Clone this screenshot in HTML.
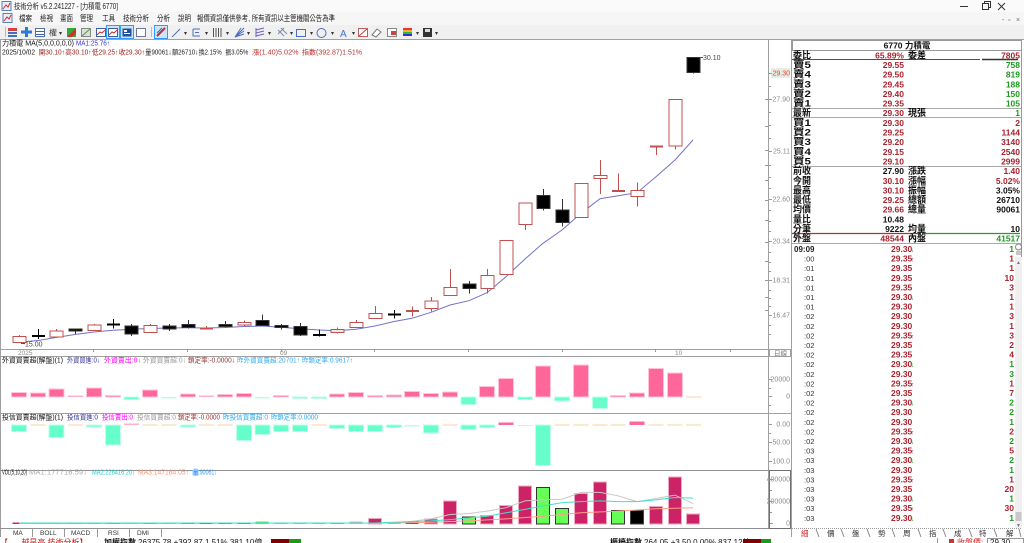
<!DOCTYPE html>
<html><head><meta charset="utf-8"><style>
html,body{margin:0;padding:0;background:#fff;width:1024px;height:543px;overflow:hidden}
svg{display:block}
text{font-family:"Liberation Sans","Noto Sans CJK TC","Noto Sans CJK SC",sans-serif}
.b{font-weight:bold}
.L{font-size:9.5px;font-weight:bold;fill:#111}
.V{font-size:8.5px;font-weight:bold;text-anchor:end}
.r{fill:#a8232e}.g{fill:#1f9a1f}.k{fill:#111}
.ax{font-size:7px;fill:#8a8a8a;text-anchor:end}
.tm{font-size:7.5px;fill:#333}
.tp{font-size:8.5px;font-weight:bold;fill:#a8232e}
.tv{font-size:8.5px;font-weight:bold;text-anchor:end}
.ar{font-size:6px}
.h7{font-size:7px}
</style></head><body>
<svg width="1024" height="543" viewBox="0 0 1024 543" xmlns="http://www.w3.org/2000/svg">
<rect x="0" y="0" width="1024" height="543" fill="#fff"/>
<!-- title bar -->
<rect x="0" y="0" width="1024" height="12" fill="#fafafa"/>
<rect x="0" y="12" width="1024" height="13" fill="#f6f6f6"/>
<rect x="0" y="25" width="1024" height="14.5" fill="#f0f0f0"/>
<rect x="2" y="1.5" width="9" height="9" fill="#e8eef8" stroke="#5a7fb8"/>
<path d="M3 9 L6 5 L8 7 L10 3" stroke="#d03030" fill="none"/>
<text x="14" y="9" font-size="8" fill="#222" textLength="104" lengthAdjust="spacingAndGlyphs">技術分析 v5.2.241227 - [力積電 6770]</text>
<line x1="960" y1="6.5" x2="968" y2="6.5" stroke="#333"/>
<rect x="982.5" y="3.5" width="6" height="6" fill="none" stroke="#333"/>
<path d="M984.5 3.5 V1.5 H990.5 V7.5 H988.5" fill="none" stroke="#333"/>
<path d="M998 3 L1005 10 M1005 3 L998 10" stroke="#333"/>
<!-- menu -->
<rect x="3" y="13.5" width="9" height="9" fill="#e8eef8" stroke="#5a7fb8"/>
<path d="M4 21 L7 17 L9 19 L11 15" stroke="#d03030" fill="none"/>
<g font-size="8" fill="#222">
<text x="19" y="21" textLength="13" lengthAdjust="spacingAndGlyphs">檔案</text>
<text x="40" y="21" textLength="13" lengthAdjust="spacingAndGlyphs">檢視</text>
<text x="60" y="21" textLength="13" lengthAdjust="spacingAndGlyphs">畫面</text>
<text x="80" y="21" textLength="13" lengthAdjust="spacingAndGlyphs">管理</text>
<text x="102" y="21" textLength="13" lengthAdjust="spacingAndGlyphs">工具</text>
<text x="123" y="21" textLength="26" lengthAdjust="spacingAndGlyphs">技術分析</text>
<text x="157" y="21" textLength="13" lengthAdjust="spacingAndGlyphs">分析</text>
<text x="178" y="21" textLength="13" lengthAdjust="spacingAndGlyphs">說明</text>
<text x="197" y="21" textLength="138" lengthAdjust="spacingAndGlyphs">報價資訊僅供參考, 所有資訊以主管機關公告為準</text>
</g>
<g font-size="7" fill="#666"><text x="1002" y="22">-</text><text x="1008" y="22">▫</text><text x="1016" y="22">×</text></g>
<!-- toolbar -->
<line x1="5.5" y1="27" x2="5.5" y2="37" stroke="#bbb"/>
<rect x="8" y="28" width="9" height="3" fill="#d04040"/><rect x="8" y="32" width="9" height="2" fill="#4070c0"/><rect x="8" y="35" width="9" height="2" fill="#4070c0"/>
<rect x="25" y="27" width="3" height="10" fill="#2b7bd6"/><rect x="21" y="30.5" width="11" height="3" fill="#2b7bd6"/>
<rect x="35.5" y="28.5" width="9" height="8" fill="#fff" stroke="#5070a8"/><line x1="36" y1="31.5" x2="44" y2="31.5" stroke="#4060a0"/><line x1="36" y1="34.5" x2="44" y2="34.5" stroke="#4060a0"/>
<text x="49" y="35.5" font-size="8" fill="#333">權</text><text x="59" y="35" font-size="6" fill="#333">▾</text>
<rect x="67" y="28" width="9" height="9" fill="#3a3"/><polygon points="67,37 76,28 76,33 72,37" fill="#d03030"/>
<rect x="81.5" y="28.5" width="9" height="8" fill="#ddd" stroke="#888"/><line x1="82" y1="36" x2="90" y2="29" stroke="#3a3"/>
<rect x="96.5" y="28.5" width="9" height="8" fill="#fff" stroke="#4060a0"/><polyline points="97,35 100,32 102,33 105,30" fill="none" stroke="#d03030"/>
<rect x="106.5" y="25.5" width="13" height="13" fill="#cce4f7" stroke="#3399ff"/><rect x="108.5" y="28.5" width="9" height="8" fill="#fff" stroke="#4060a0"/><polyline points="109,35 112,32 114,33 117,30" fill="none" stroke="#d03030"/>
<rect x="120.5" y="25.5" width="13" height="13" fill="#cce4f7" stroke="#3399ff"/><rect x="122.5" y="28.5" width="9" height="8" fill="#2050a0"/><rect x="124" y="30" width="3" height="2" fill="#fff"/><rect x="124" y="33" width="6" height="1" fill="#fff"/>
<rect x="136.5" y="28.5" width="9" height="8" fill="#fff" stroke="#6a7aa0"/>
<line x1="151.5" y1="27" x2="151.5" y2="37" stroke="#bbb"/>
<rect x="154.5" y="25.5" width="13" height="13" fill="#cce4f7" stroke="#3399ff"/><line x1="157" y1="36" x2="165" y2="28" stroke="#c03030" stroke-width="2"/><line x1="157" y1="33" x2="162" y2="28" stroke="#4060c0"/>
<line x1="172" y1="37" x2="180" y2="29" stroke="#4a6fc0"/><text x="184" y="35" font-size="6" fill="#333">▾</text>
<path d="M193 29 H200 M193 29 V36 H200 M195 32.5 H199" stroke="#4a6fc0" fill="none"/><text x="205" y="35" font-size="6" fill="#333">▾</text>
<path d="M213.5 28 V37 M216 28 V37 M218.5 28 V37 M221 28 V37" stroke="#555"/><text x="226" y="35" font-size="6" fill="#333">▾</text>
<path d="M235 37 L244 28 M235 37 L244 31 M235 37 L244 34 M235 37 L241 28" stroke="#4a6fc0"/><text x="247" y="35" font-size="6" fill="#333">▾</text>
<path d="M256 28 V37 M256 30 L264 28 M256 33 L264 31 M256 36 L264 34" stroke="#6a5fc0"/><text x="268" y="35" font-size="6" fill="#333">▾</text>
<path d="M278 30 L284 36 M281 28 L287 34 M278 34 L284 28" stroke="#7a8ab0"/><text x="290" y="35" font-size="6" fill="#333">▾</text>
<rect x="296.5" y="29.5" width="9" height="7" fill="none" stroke="#4a6fc0"/><text x="310" y="35" font-size="6" fill="#333">▾</text>
<circle cx="321.5" cy="33" r="4.5" fill="none" stroke="#4a6fc0"/><text x="331" y="35" font-size="6" fill="#333">▾</text>
<text x="340" y="37" font-size="10" fill="#4a6fc0">A</text><text x="352" y="35" font-size="6" fill="#333">▾</text>
<rect x="358.5" y="28.5" width="9" height="8" fill="#fff" stroke="#c06060"/><line x1="359" y1="36" x2="367" y2="29" stroke="#d04040"/>
<path d="M372 35 L377 29 L381 32 L376 37 Z" fill="#fff" stroke="#777"/>
<rect x="387.5" y="28.5" width="9" height="8" fill="#fff" stroke="#888"/><rect x="391" y="31" width="5" height="4" fill="#d04040"/>
<rect x="403" y="28" width="9" height="2" fill="#e33"/><rect x="403" y="30" width="9" height="2" fill="#fa3"/><rect x="403" y="32" width="9" height="2" fill="#3b3"/><rect x="403" y="34" width="9" height="2" fill="#33c"/><text x="416" y="35" font-size="6" fill="#333">▾</text>
<rect x="423" y="28" width="9" height="9" fill="#333"/><rect x="425" y="29" width="5" height="3" fill="#ddd"/><text x="435" y="35" font-size="6" fill="#333">▾</text>

<!-- frame lines -->
<line x1="0" y1="39.5" x2="1024" y2="39.5" stroke="#a0a0a0"/>
<line x1="0.5" y1="40" x2="0.5" y2="537" stroke="#a0a0a0"/>
<line x1="768.5" y1="40" x2="768.5" y2="528" stroke="#a0a0a0"/>
<line x1="791.5" y1="40" x2="791.5" y2="537" stroke="#a0a0a0"/>
<line x1="0" y1="349.5" x2="791" y2="349.5" stroke="#a0a0a0"/>
<line x1="0" y1="356.5" x2="791" y2="356.5" stroke="#a0a0a0"/>
<line x1="0" y1="413.5" x2="791" y2="413.5" stroke="#a0a0a0"/>
<line x1="0" y1="470.5" x2="791" y2="470.5" stroke="#909090"/>
<line x1="0" y1="528.5" x2="791" y2="528.5" stroke="#909090"/>
<rect x="769.5" y="470.5" width="21" height="58" fill="none" stroke="#707070"/>

<!-- header texts -->
<text x="2" y="45.5" class="h7" fill="#111" textLength="72" lengthAdjust="spacingAndGlyphs">力積電 MA(5,0,0,0,0,0)</text>
<text x="76" y="45.5" class="h7" fill="#3535d0" textLength="34" lengthAdjust="spacingAndGlyphs">MA1:25.76↑</text>
<g class="h7">
<text x="2" y="54.5" fill="#111" textLength="33" lengthAdjust="spacingAndGlyphs">2025/10/02</text>
<text x="38.7" y="54.5" fill="#a02020" textLength="26.3" lengthAdjust="spacingAndGlyphs">開30.10↑</text>
<text x="65.3" y="54.5" fill="#a02020" textLength="26.3" lengthAdjust="spacingAndGlyphs">高30.10↑</text>
<text x="92" y="54.5" fill="#a02020" textLength="26.3" lengthAdjust="spacingAndGlyphs">低29.25↑</text>
<text x="118.7" y="54.5" fill="#a02020" textLength="26.3" lengthAdjust="spacingAndGlyphs">收29.30↑</text>
<text x="145.3" y="54.5" fill="#222" textLength="26.3" lengthAdjust="spacingAndGlyphs">量90061↓</text>
<text x="172" y="54.5" fill="#222" textLength="26.3" lengthAdjust="spacingAndGlyphs">額26710↓</text>
<text x="198.7" y="54.5" fill="#222" textLength="23" lengthAdjust="spacingAndGlyphs">換2.15%</text>
<text x="225.3" y="54.5" fill="#222" textLength="23" lengthAdjust="spacingAndGlyphs">振3.05%</text>
<text x="252" y="54.5" fill="#c03030" textLength="46.5" lengthAdjust="spacingAndGlyphs">漲(1.40)5.02%</text>
<text x="302" y="54.5" fill="#c03030" textLength="60" lengthAdjust="spacingAndGlyphs">指數(392.87)1.51%</text>
</g>

<!-- price axis -->
<rect x="771" y="68" width="19" height="10" fill="#e4efe4"/>
<text x="790" y="75.5" class="ax" style="fill:#ff3030">29.30</text>
<text x="790" y="101.5" class="ax">27.90</text>
<text x="790" y="153.5" class="ax">25.11</text>
<text x="790" y="201.5" class="ax">22.60</text>
<text x="790" y="243.5" class="ax">20.34</text>
<text x="790" y="282.5" class="ax">18.31</text>
<text x="790" y="317.5" class="ax">16.47</text>
<g stroke="#999">
<path d="M769 73.5h3M769 99.5h3M769 151.5h3M769 199.5h3M769 241.5h3M769 280.5h3M769 315.5h3"/>
<path d="M769 86.5h2M769 112.5h2M769 125.5h2M769 138.5h2M769 165.5h2M769 177.5h2M769 188.5h2M769 210.5h2M769 221.5h2M769 231.5h2M769 252.5h2M769 262.5h2M769 271.5h2M769 290.5h2M769 298.5h2M769 306.5h2M769 325.5h2M769 334.5h2"/>
<path d="M765 99.5h3M765 126.5h3M765 150.5h3M765 165.5h3M765 180.5h3M765 200.5h3M765 220.5h3M765 242.5h3M765 261.5h3M765 280.5h3M765 297.5h3M765 310.5h3"/>
</g>
<!-- date axis -->
<g font-size="6.5" fill="#8a8a8a">
<text x="18" y="355">2025</text><text x="280" y="355">09</text><text x="675" y="355">10</text>
</g>
<path d="M93.5 349v3M187.5 349v3M281.5 349v3M374.5 349v3M468.5 349v3M562.5 349v3M655.5 349v3M730.5 349v3" stroke="#999"/>
<rect x="769.5" y="349.5" width="21" height="7" fill="#fff" stroke="#a0a0a0"/>
<text x="774" y="355.5" font-size="6.5" fill="#777">日線</text>

<!-- MA line -->
<polyline fill="none" stroke="#7272c8" stroke-width="1" points="19,342.3 38,340.5 56,337.5 75,334.5 94,332 113,330.3 131,329.3 150,328.5 169,328 188,327.8 206,328 225,327.5 244,326.5 262,326 281,327.3 300,328.7 319,330 337,330.7 356,329.3 375,326 394,321.5 412,318.3 431,312.3 450,305 469,300.7 487,292.7 506,276.7 525,259 543,243.3 562,230 581,213.3 600,198.7 618,195.7 637,192.7 656,176.7 675,160 693,140"/>

<!-- candles -->
<g shape-rendering="crispEdges">
<g stroke="#c0504d" fill="#fff">
<line x1="19.5" y1="335" x2="19.5" y2="343"/><rect x="13" y="336.5" width="13" height="6"/>
<line x1="56.5" y1="329" x2="56.5" y2="337"/><rect x="50" y="331" width="13" height="6"/>
<line x1="94.5" y1="324" x2="94.5" y2="331"/><rect x="88" y="325" width="13" height="5.5"/>
<line x1="150.5" y1="324" x2="150.5" y2="333"/><rect x="144" y="325.5" width="13" height="7"/>
<line x1="244.5" y1="320.5" x2="244.5" y2="326.5"/><rect x="238" y="322.5" width="13" height="2.5"/>
<line x1="337.5" y1="327.5" x2="337.5" y2="333.5"/><rect x="331" y="329.5" width="13" height="3" fill="#e8e8e8"/>
<line x1="356.5" y1="320" x2="356.5" y2="327.5"/><rect x="350" y="322.5" width="13" height="5"/>
<line x1="375.5" y1="306" x2="375.5" y2="318.5"/><rect x="369" y="313.5" width="13" height="5"/>
<line x1="431.5" y1="297" x2="431.5" y2="311.5"/><rect x="425" y="301" width="13" height="7.5"/>
<line x1="450.5" y1="269" x2="450.5" y2="295.5"/><rect x="444" y="287.5" width="13" height="8"/>
<line x1="487.5" y1="269" x2="487.5" y2="293.5"/><rect x="481" y="275.5" width="13" height="13"/>
<rect x="500" y="240.5" width="13" height="34"/>
<line x1="525.5" y1="203" x2="525.5" y2="230"/><rect x="519" y="203" width="13" height="21.5"/>
<rect x="575" y="183.5" width="13" height="34"/>
<line x1="600.5" y1="160" x2="600.5" y2="194"/><rect x="594" y="175.5" width="13" height="3"/>
<line x1="637.5" y1="182.5" x2="637.5" y2="206.5"/><rect x="631" y="190.5" width="13" height="6"/>
<line x1="675.5" y1="99.5" x2="675.5" y2="149.5"/><rect x="669" y="99.5" width="13" height="46.5"/>
</g>
<!-- red doji -->
<g stroke="#c0504d">
<line x1="206.5" y1="326" x2="206.5" y2="329.5"/><line x1="200" y1="328.5" x2="213" y2="328.5" stroke-width="1.5"/>
<line x1="412.5" y1="306.5" x2="412.5" y2="316.5"/><line x1="406" y1="311" x2="419" y2="311" stroke-width="2"/>
<line x1="618.5" y1="173.5" x2="618.5" y2="191.5"/><line x1="612" y1="191" x2="625" y2="191" stroke-width="2"/>
<line x1="656.5" y1="146.5" x2="656.5" y2="155"/><line x1="650" y1="146.5" x2="663" y2="146.5" stroke-width="2"/>
</g>
<!-- black candles -->
<g stroke="#000">
<line x1="38.5" y1="329" x2="38.5" y2="339"/><line x1="32" y1="336" x2="45" y2="336" stroke-width="2"/>
<line x1="113.5" y1="319" x2="113.5" y2="328.5"/><line x1="107" y1="324.5" x2="120" y2="324.5" stroke-width="2"/>
<line x1="319.5" y1="329.5" x2="319.5" y2="336.5"/><line x1="313" y1="335" x2="326" y2="335" stroke-width="2"/>
<line x1="394.5" y1="310" x2="394.5" y2="318.5"/><line x1="388" y1="314.5" x2="401" y2="314.5" stroke-width="2"/>
</g>
<g stroke="#333" fill="#000">
<line x1="75.5" y1="328.5" x2="75.5" y2="334"/><rect x="69" y="329" width="13" height="2"/>
<line x1="131.5" y1="324" x2="131.5" y2="336"/><rect x="125" y="326" width="13" height="8"/>
<line x1="169.5" y1="324" x2="169.5" y2="331"/><rect x="163" y="326" width="13" height="3"/>
<line x1="188.5" y1="320" x2="188.5" y2="328.5"/><rect x="182" y="324.5" width="13" height="3"/>
<line x1="225.5" y1="321" x2="225.5" y2="327.5"/><rect x="219" y="324.5" width="13" height="2"/>
<line x1="262.5" y1="314.5" x2="262.5" y2="326"/><rect x="256" y="320.5" width="13" height="5"/>
<line x1="281.5" y1="324" x2="281.5" y2="329.5"/><rect x="275" y="325.5" width="13" height="2"/>
<line x1="300.5" y1="323" x2="300.5" y2="336"/><rect x="294" y="326.5" width="13" height="8.5"/>
<line x1="469.5" y1="281" x2="469.5" y2="293.5"/><rect x="463" y="284" width="13" height="4.5"/>
<line x1="543.5" y1="189" x2="543.5" y2="210.5"/><rect x="537" y="195.5" width="13" height="13"/>
<line x1="562.5" y1="199" x2="562.5" y2="226.5"/><rect x="556" y="210" width="13" height="12.5"/>
<line x1="693.5" y1="57.5" x2="693.5" y2="73.5"/><rect x="687" y="57.5" width="13" height="15"/>
</g>
</g>
<line x1="700" y1="57.5" x2="703" y2="57.5" stroke="#555"/>
<text x="703" y="60" font-size="7" fill="#444">30.10</text>
<line x1="21" y1="343.5" x2="25" y2="343.5" stroke="#555"/>
<text x="25" y="346.5" font-size="7" fill="#444">15.00</text>

<!-- panel 1 header -->
<g class="h7">
<text x="2" y="362.5" fill="#111" textLength="61" lengthAdjust="spacingAndGlyphs">外資買賣超(解盤)(1)</text>
<text x="67" y="362.5" fill="#333399" textLength="33" lengthAdjust="spacingAndGlyphs">外資買進:0↓</text>
<text x="104" y="362.5" fill="#ff00ff" textLength="37" lengthAdjust="spacingAndGlyphs">外資賣出:0↓</text>
<text x="143" y="362.5" fill="#9a9a9a" textLength="43" lengthAdjust="spacingAndGlyphs">外資買賣超:0↓</text>
<text x="188" y="362.5" fill="#993333" textLength="47" lengthAdjust="spacingAndGlyphs">鎖定率:-0.0000↓</text>
<text x="237" y="362.5" fill="#33aaee" textLength="63" lengthAdjust="spacingAndGlyphs">昨外資買賣超:20701↑</text>
<text x="302" y="362.5" fill="#33aaee" textLength="51" lengthAdjust="spacingAndGlyphs">昨鎖定率:0.9617↑</text>
</g>
<!-- panel 1 bars baseline 397 -->
<g shape-rendering="crispEdges">
<g fill="#ff6699" stroke="#ffc4d6">
<rect x="11.5" y="392.5" width="15" height="4.5"/>
<rect x="30.5" y="393" width="15" height="4"/>
<rect x="49" y="389" width="15" height="8"/>
<rect x="86.5" y="388" width="15" height="9"/>
<rect x="105.5" y="395.5" width="15" height="1.5"/>
<rect x="142.5" y="390" width="15" height="7"/>
<rect x="180.5" y="394" width="15" height="3"/>
<rect x="217.5" y="394.3" width="15" height="2.7"/>
<rect x="236.5" y="393.7" width="15" height="3.3"/>
<rect x="273.5" y="395.5" width="15" height="1.5"/>
<rect x="329.5" y="394" width="15" height="3"/>
<rect x="348.5" y="392.3" width="15" height="4.7"/>
<rect x="367.5" y="395.3" width="15" height="1.7"/>
<rect x="386.5" y="395" width="15" height="2"/>
<rect x="404.5" y="391.7" width="15" height="5.3"/>
<rect x="423.5" y="393.7" width="15" height="3.3"/>
<rect x="442.5" y="392" width="15" height="5"/>
<rect x="479.5" y="386.3" width="15" height="10.7"/>
<rect x="498.5" y="378.3" width="15" height="18.7"/>
<rect x="535.5" y="366" width="15" height="31"/>
<rect x="573.5" y="365" width="15" height="32"/>
<rect x="610.5" y="395.3" width="15" height="1.7"/>
<rect x="629.5" y="393" width="15" height="4"/>
<rect x="648.5" y="368.7" width="15" height="28.3"/>
<rect x="667.5" y="373" width="15" height="24"/>
</g>
<g fill="#ffb0c8"><rect x="68" y="395.5" width="15" height="1.5"/><rect x="199" y="395.5" width="15" height="1.5"/></g>
<g fill="#66ffcc" stroke="#bfffe8">
<rect x="124" y="397" width="15" height="2.5"/>
<rect x="292.5" y="397" width="15" height="1.5"/>
<rect x="311.5" y="397" width="15" height="1.5"/>
<rect x="461" y="397" width="15" height="7.3"/>
<rect x="517.5" y="397" width="15" height="2.7"/>
<rect x="554.5" y="397" width="15" height="4"/>
<rect x="592.5" y="397" width="15" height="11.7"/>
</g>
<g fill="#b8ffe6"><rect x="161.5" y="397" width="15" height="1.5"/><rect x="254.5" y="397" width="15" height="1.5"/></g>
<rect x="686" y="396.5" width="15" height="1" fill="#ffd0a0"/>
</g>
<!-- panel 1 axis -->
<text x="790" y="381.5" class="ax">20000</text>
<text x="790" y="398.5" class="ax">0</text>
<path d="M769 379.5h3M769 388.5h2M769 396.5h3M769 405.5h2" stroke="#999"/>

<!-- panel 2 header -->
<g class="h7">
<text x="2" y="419.5" fill="#111" textLength="61" lengthAdjust="spacingAndGlyphs">投信買賣超(解盤)(1)</text>
<text x="67" y="419.5" fill="#333399" textLength="31" lengthAdjust="spacingAndGlyphs">投信買進:0</text>
<text x="102" y="419.5" fill="#ff00ff" textLength="31" lengthAdjust="spacingAndGlyphs">投信賣出:0</text>
<text x="137" y="419.5" fill="#9a9a9a" textLength="39" lengthAdjust="spacingAndGlyphs">投信買賣超:0</text>
<text x="178" y="419.5" fill="#993333" textLength="42" lengthAdjust="spacingAndGlyphs">鎖定率:-0.0000</text>
<text x="223" y="419.5" fill="#33aaee" textLength="45" lengthAdjust="spacingAndGlyphs">昨投信買賣超:0</text>
<text x="271" y="419.5" fill="#33aaee" textLength="47" lengthAdjust="spacingAndGlyphs">昨鎖定率:0.0000</text>
</g>
<!-- panel 2 bars baseline 425 -->
<g shape-rendering="crispEdges">
<g fill="#66ffcc" stroke="#bfffe8">
<rect x="11.5" y="425" width="15" height="6.7"/>
<rect x="49" y="425" width="15" height="12.3"/>
<rect x="86.5" y="425" width="15" height="2"/>
<rect x="105.5" y="425" width="15" height="20"/>
<rect x="180.5" y="425" width="15" height="2"/>
<rect x="236.5" y="425" width="15" height="15.7"/>
<rect x="255" y="425" width="15" height="9.3"/>
<rect x="273.5" y="425" width="15" height="6.7"/>
<rect x="292.5" y="425" width="15" height="6.3"/>
<rect x="329.5" y="425" width="15" height="3.3"/>
<rect x="348.5" y="425" width="15" height="6.3"/>
<rect x="367.5" y="425" width="15" height="6.7"/>
<rect x="386.5" y="425" width="15" height="2.3"/>
<rect x="423.5" y="425" width="15" height="8"/>
<rect x="461" y="425" width="15" height="4.3"/>
<rect x="479.5" y="425" width="15" height="2.7"/>
<rect x="535.5" y="425" width="15" height="40.7"/>
</g>
<g fill="#b8ffe6"><rect x="404.5" y="425" width="15" height="1.7"/><rect x="517.5" y="425" width="15" height="1"/></g>
<rect x="124" y="423.3" width="15" height="1.7" fill="#ffb0c8"/>
<rect x="498.5" y="422.7" width="15" height="2.3" fill="#ff6699"/>
<rect x="629.5" y="421.7" width="15" height="3.3" fill="#ff6699"/>
<g fill="#ffd0a0">
<rect x="30.5" y="424.5" width="15" height="1"/><rect x="68" y="424.5" width="15" height="1"/>
<rect x="142.5" y="424.5" width="15" height="1"/><rect x="161.5" y="424.5" width="15" height="1"/>
<rect x="199" y="424.5" width="15" height="1"/><rect x="217.5" y="424.5" width="15" height="1"/>
<rect x="311.5" y="424.5" width="15" height="1"/><rect x="442.5" y="424.5" width="15" height="1"/>
<rect x="554.5" y="424.5" width="15" height="1"/><rect x="573.5" y="424.5" width="15" height="1"/>
<rect x="592.5" y="424.5" width="15" height="1"/><rect x="610.5" y="424.5" width="15" height="1"/>
<rect x="648.5" y="424.5" width="15" height="1"/><rect x="667.5" y="424.5" width="15" height="1"/>
<rect x="686" y="424.5" width="15" height="1"/>
</g>
</g>
<text x="790" y="426.5" class="ax">0.00</text>
<text x="790" y="444.5" class="ax">-50.00</text>
<text x="790" y="463.5" class="ax">-100.0</text>
<path d="M769 424.5h3M769 433.5h2M769 442.5h3M769 452.5h2M769 461.5h3" stroke="#999"/>

<!-- VOL header -->
<g class="h7">
<text x="2" y="474.5" fill="#111" textLength="25" lengthAdjust="spacingAndGlyphs">VOL(5,10,20)</text>
<text x="29" y="474.5" fill="#aaaaaa" textLength="58" lengthAdjust="spacingAndGlyphs">MA1:177716.59↓</text>
<text x="92" y="474.5" fill="#22c8c8" textLength="43" lengthAdjust="spacingAndGlyphs">MA2:228416.20↓</text>
<text x="138" y="474.5" fill="#ff9070" textLength="51" lengthAdjust="spacingAndGlyphs">MA3:147184.05↑</text>
<rect x="192.5" y="469.5" width="6" height="6" fill="#9fd0ff"/>
<text x="193" y="474.5" fill="#3399ff" textLength="24" lengthAdjust="spacingAndGlyphs">量:90061↓</text>
</g>
<!-- VOL bars baseline 524 -->
<g shape-rendering="crispEdges">
<g fill="#cc2266">
<rect x="12.5" y="522.5" width="13" height="1.5"/><rect x="49.5" y="522.5" width="13" height="1.5"/>
<rect x="87.5" y="522.5" width="13" height="1.5"/><rect x="143.5" y="522.5" width="13" height="1.5"/>
<rect x="181.5" y="522.5" width="13" height="1.5"/><rect x="218.5" y="522.5" width="13" height="1.5"/>
<rect x="237.5" y="522.5" width="13" height="1.5"/><rect x="405.5" y="521.6" width="13" height="2.4"/>
</g>
<g fill="#222"><rect x="31.5" y="522.5" width="13" height="1.5"/><rect x="68.5" y="522.5" width="13" height="1.5"/><rect x="106.5" y="522.5" width="13" height="1.5"/><rect x="199.5" y="522.5" width="13" height="1.5"/></g>
<g fill="#55ee55"><rect x="124.5" y="522.5" width="13" height="1.5"/><rect x="162.5" y="522.5" width="13" height="1.5"/><rect x="255.5" y="521.5" width="13" height="2.5"/><rect x="274.5" y="522.5" width="13" height="1.5"/><rect x="293.5" y="522.5" width="13" height="1.5"/><rect x="312.5" y="522.5" width="13" height="1.5"/><rect x="387.5" y="522.3" width="13" height="1.7"/></g>
<rect x="330.5" y="522.5" width="13" height="1.5" fill="#999"/>
<rect x="349.5" y="521.5" width="13" height="2.5" fill="#f0a8c0"/>
<g fill="#cc2266" stroke="#f0a8c0">
<rect x="368.5" y="518.6" width="13" height="5.4"/>
<rect x="424.5" y="519" width="13" height="5"/>
<rect x="443.5" y="501" width="13" height="23"/>
<rect x="480.5" y="515.5" width="13" height="8.5"/>
<rect x="499.5" y="505.3" width="13" height="18.7"/>
<rect x="518.5" y="486.2" width="13" height="37.8"/>
<rect x="574.5" y="493.7" width="13" height="30.3"/>
<rect x="593.5" y="482.2" width="13" height="41.8"/>
<rect x="649.5" y="506.3" width="13" height="17.7"/>
<rect x="668.5" y="477.1" width="13" height="46.9"/>
<rect x="686.5" y="513.8" width="13" height="10.2"/>
</g>
<g fill="#66ff55" stroke="#333">
<rect x="462.5" y="517.2" width="13" height="6.8"/>
<rect x="536.5" y="487.6" width="13" height="36.4"/>
<rect x="555.5" y="508.4" width="13" height="15.6"/>
<rect x="611.5" y="510.4" width="13" height="13.6"/>
</g>
<rect x="630.5" y="510.4" width="13" height="13.6" fill="#000" stroke="#444"/>
</g>
<polyline fill="none" stroke="#c8c8c8" points="19,523 375,523 394,522.6 412,521.3 431,518.9 450,514.5 469,513.5 487,511.1 506,507.7 525,500.9 543,499.9 562,499.2 581,492.4 600,492.4 618,495.8 637,501.6 656,498.5 675,495.1 693,503.6"/>
<polyline fill="none" stroke="#ffa088" points="19,523.5 394,523 431,522.3 469,520.9 506,518.9 543,516.2 581,512.8 618,511.1 656,508.7 693,507.7"/>
<polyline fill="none" stroke="#40e0c8" points="19,523 375,523 394,522.3 412,521.6 431,520.9 450,519.6 469,517.9 487,516.2 506,512.8 525,509.4 543,506 562,502.6 581,501.6 600,500.9 618,501.6 637,501.6 656,499.9 675,497.5 693,498.1"/>
<text x="790" y="481.5" class="ax">400000</text>
<text x="790" y="503.5" class="ax">200000</text>
<text x="790" y="525.5" class="ax">0</text>
<path d="M770 479.5h3M770 490.5h2M770 501.5h3M770 512.5h2M770 523.5h3" stroke="#999"/>

<!-- bottom tabs -->
<g stroke="#999" fill="none">
<path d="M0.5 528.5V537M32.5 528.5V537M64.5 528.5V537M97.5 528.5V537M129.5 528.5V537M161.5 528.5V537"/>
</g>
<g font-size="6.5" fill="#333">
<text x="13" y="535">MA</text><text x="40" y="535">BOLL</text><text x="71" y="535">MACD</text><text x="108" y="535">RSI</text><text x="137" y="535">DMI</text>
</g>
<!-- status bar -->
<g font-size="8">
<text x="0" y="545" fill="#d01010">【......越是高 技術分析】</text>
<text x="104" y="545" fill="#111" class="b">加權指數</text>
<text x="138" y="545" fill="#111">26375.78 +392.87 1.51% 381.10億</text>
<text x="610" y="545" fill="#111" class="b">櫃檯指數</text>
<text x="644" y="545" fill="#111">264.05 +3.50 0.00% 837.12億</text>
</g>
<rect x="271" y="539" width="18" height="4" fill="#800000"/><rect x="289" y="539" width="12" height="4" fill="#1a9a1a"/>
<rect x="743" y="539" width="18" height="4" fill="#800000"/><rect x="761" y="539" width="10" height="4" fill="#1a9a1a"/>

<!-- right panel table -->
<rect x="792.5" y="40.5" width="229" height="10" fill="#fff" stroke="#999"/>
<text x="907" y="48.5" font-size="8.5" class="b" fill="#111" text-anchor="middle">6770 力積電</text>
<line x1="1021.5" y1="40" x2="1021.5" y2="528" stroke="#999"/>
<line x1="792" y1="59.5" x2="980" y2="59.5" stroke="#a03030"/>
<line x1="982" y1="59.5" x2="1018" y2="59.5" stroke="#333" stroke-width="1.5"/>
<line x1="792" y1="108.5" x2="1021" y2="108.5" stroke="#aaa"/>
<line x1="792" y1="117.5" x2="1021" y2="117.5" stroke="#aaa"/>
<line x1="792" y1="166.5" x2="1021" y2="166.5" stroke="#aaa"/>
<line x1="792" y1="233.5" x2="921" y2="233.5" stroke="#b03030" stroke-width="1.2"/>
<line x1="922" y1="233.5" x2="1020" y2="233.5" stroke="#2a9a2a" stroke-width="1.2"/>
<line x1="792" y1="243.5" x2="1021" y2="243.5" stroke="#aaa"/>

<g>
<text x="793" y="58.3" class="L" textLength="18" lengthAdjust="spacingAndGlyphs">委比</text><text x="904" y="58.3" class="V r">65.89%</text><text x="908" y="58.3" class="L" textLength="18" lengthAdjust="spacingAndGlyphs">委差</text><text x="1020" y="58.3" class="V r">7805</text>
<text x="793" y="68" class="L" textLength="18" lengthAdjust="spacingAndGlyphs">賣5</text><text x="904" y="68" class="V r">29.55</text><text x="1020" y="68" class="V g">758</text>
<text x="793" y="77.6" class="L" textLength="18" lengthAdjust="spacingAndGlyphs">賣4</text><text x="904" y="77.6" class="V r">29.50</text><text x="1020" y="77.6" class="V g">819</text>
<text x="793" y="87.3" class="L" textLength="18" lengthAdjust="spacingAndGlyphs">賣3</text><text x="904" y="87.3" class="V r">29.45</text><text x="1020" y="87.3" class="V g">188</text>
<text x="793" y="96.9" class="L" textLength="18" lengthAdjust="spacingAndGlyphs">賣2</text><text x="904" y="96.9" class="V r">29.40</text><text x="1020" y="96.9" class="V g">150</text>
<text x="793" y="106.6" class="L" textLength="18" lengthAdjust="spacingAndGlyphs">賣1</text><text x="904" y="106.6" class="V r">29.35</text><text x="1020" y="106.6" class="V g">105</text>
<text x="793" y="116.2" class="L" textLength="18" lengthAdjust="spacingAndGlyphs">最新</text><text x="904" y="116.2" class="V r">29.30</text><text x="908" y="116.2" class="L" textLength="18" lengthAdjust="spacingAndGlyphs">現張</text><text x="1020" y="116.2" class="V g">1</text>
<text x="793" y="125.9" class="L" textLength="18" lengthAdjust="spacingAndGlyphs">買1</text><text x="904" y="125.9" class="V r">29.30</text><text x="1020" y="125.9" class="V r">2</text>
<text x="793" y="135.5" class="L" textLength="18" lengthAdjust="spacingAndGlyphs">買2</text><text x="904" y="135.5" class="V r">29.25</text><text x="1020" y="135.5" class="V r">1144</text>
<text x="793" y="145.2" class="L" textLength="18" lengthAdjust="spacingAndGlyphs">買3</text><text x="904" y="145.2" class="V r">29.20</text><text x="1020" y="145.2" class="V r">3140</text>
<text x="793" y="154.8" class="L" textLength="18" lengthAdjust="spacingAndGlyphs">買4</text><text x="904" y="154.8" class="V r">29.15</text><text x="1020" y="154.8" class="V r">2540</text>
<text x="793" y="164.5" class="L" textLength="18" lengthAdjust="spacingAndGlyphs">買5</text><text x="904" y="164.5" class="V r">29.10</text><text x="1020" y="164.5" class="V r">2999</text>
<text x="793" y="174.1" class="L" textLength="18" lengthAdjust="spacingAndGlyphs">前收</text><text x="904" y="174.1" class="V k">27.90</text><text x="908" y="174.1" class="L" textLength="18" lengthAdjust="spacingAndGlyphs">漲跌</text><text x="1020" y="174.1" class="V r">1.40</text>
<text x="793" y="183.8" class="L" textLength="18" lengthAdjust="spacingAndGlyphs">今開</text><text x="904" y="183.8" class="V r">30.10</text><text x="908" y="183.8" class="L" textLength="18" lengthAdjust="spacingAndGlyphs">漲幅</text><text x="1020" y="183.8" class="V r">5.02%</text>
<text x="793" y="193.4" class="L" textLength="18" lengthAdjust="spacingAndGlyphs">最高</text><text x="904" y="193.4" class="V r">30.10</text><text x="908" y="193.4" class="L" textLength="18" lengthAdjust="spacingAndGlyphs">振幅</text><text x="1020" y="193.4" class="V k">3.05%</text>
<text x="793" y="203.1" class="L" textLength="18" lengthAdjust="spacingAndGlyphs">最低</text><text x="904" y="203.1" class="V r">29.25</text><text x="908" y="203.1" class="L" textLength="18" lengthAdjust="spacingAndGlyphs">總額</text><text x="1020" y="203.1" class="V k">26710</text>
<text x="793" y="212.7" class="L" textLength="18" lengthAdjust="spacingAndGlyphs">均價</text><text x="904" y="212.7" class="V r">29.66</text><text x="908" y="212.7" class="L" textLength="18" lengthAdjust="spacingAndGlyphs">總量</text><text x="1020" y="212.7" class="V k">90061</text>
<text x="793" y="222.4" class="L" textLength="18" lengthAdjust="spacingAndGlyphs">量比</text><text x="904" y="222.4" class="V k">10.48</text>
<text x="793" y="232" class="L" textLength="18" lengthAdjust="spacingAndGlyphs">分筆</text><text x="904" y="232" class="V k">9222</text><text x="908" y="232" class="L" textLength="18" lengthAdjust="spacingAndGlyphs">均量</text><text x="1020" y="232" class="V k">10</text>
<text x="793" y="241.7" class="L" textLength="18" lengthAdjust="spacingAndGlyphs">外盤</text><text x="904" y="241.7" class="V r">48544</text><text x="908" y="241.7" class="L" textLength="18" lengthAdjust="spacingAndGlyphs">內盤</text><text x="1020" y="241.7" class="V g">41517</text>
</g>

<!-- scrollbar -->
<rect x="1015" y="257" width="7" height="271" fill="#f0f0f0"/>
<circle cx="1018.5" cy="247" r="3" fill="none" stroke="#888"/>
<path d="M1016 252h5M1016 254h5" stroke="#888"/>
<text x="1016" y="264" font-size="5" fill="#777">▲</text>
<rect x="1015.5" y="512" width="6" height="9" fill="#c8c8c8"/>
<text x="1016" y="527" font-size="5" fill="#777">▼</text>

<!-- tick list -->
<g>
<text x="794" y="252" class="tm b" style="font-size:8px;fill:#222">09:09</text><text x="891" y="252" class="tp">29.30</text><text x="911" y="252" class="ar g">↓</text><text x="1014" y="252" class="tv g">1</text>
<text x="804" y="261.6" class="tm">:00</text><text x="891" y="261.6" class="tp">29.35</text><text x="911" y="261.6" class="ar r">↑</text><text x="1014" y="261.6" class="tv r">1</text>
<text x="804" y="271.2" class="tm">:01</text><text x="891" y="271.2" class="tp">29.35</text><text x="1014" y="271.2" class="tv r">1</text>
<text x="804" y="280.8" class="tm">:01</text><text x="891" y="280.8" class="tp">29.35</text><text x="1014" y="280.8" class="tv r">10</text>
<text x="804" y="290.4" class="tm">:01</text><text x="891" y="290.4" class="tp">29.35</text><text x="1014" y="290.4" class="tv r">3</text>
<text x="804" y="300" class="tm">:01</text><text x="891" y="300" class="tp">29.30</text><text x="911" y="300" class="ar g">↓</text><text x="1014" y="300" class="tv r">1</text>
<text x="804" y="309.6" class="tm">:01</text><text x="891" y="309.6" class="tp">29.30</text><text x="1014" y="309.6" class="tv r">1</text>
<text x="804" y="319.2" class="tm">:02</text><text x="891" y="319.2" class="tp">29.30</text><text x="1014" y="319.2" class="tv r">3</text>
<text x="804" y="328.8" class="tm">:02</text><text x="891" y="328.8" class="tp">29.30</text><text x="1014" y="328.8" class="tv r">1</text>
<text x="804" y="338.4" class="tm">:02</text><text x="891" y="338.4" class="tp">29.35</text><text x="911" y="338.4" class="ar r">↑</text><text x="1014" y="338.4" class="tv r">3</text>
<text x="804" y="348" class="tm">:02</text><text x="891" y="348" class="tp">29.35</text><text x="1014" y="348" class="tv r">2</text>
<text x="804" y="357.6" class="tm">:02</text><text x="891" y="357.6" class="tp">29.35</text><text x="1014" y="357.6" class="tv r">4</text>
<text x="804" y="367.2" class="tm">:02</text><text x="891" y="367.2" class="tp">29.30</text><text x="911" y="367.2" class="ar g">↓</text><text x="1014" y="367.2" class="tv g">1</text>
<text x="804" y="376.8" class="tm">:02</text><text x="891" y="376.8" class="tp">29.30</text><text x="1014" y="376.8" class="tv g">3</text>
<text x="804" y="386.4" class="tm">:02</text><text x="891" y="386.4" class="tp">29.35</text><text x="911" y="386.4" class="ar r">↑</text><text x="1014" y="386.4" class="tv r">1</text>
<text x="804" y="396" class="tm">:02</text><text x="891" y="396" class="tp">29.35</text><text x="1014" y="396" class="tv r">7</text>
<text x="804" y="405.6" class="tm">:02</text><text x="891" y="405.6" class="tp">29.30</text><text x="911" y="405.6" class="ar g">↓</text><text x="1014" y="405.6" class="tv g">2</text>
<text x="804" y="415.2" class="tm">:02</text><text x="891" y="415.2" class="tp">29.30</text><text x="1014" y="415.2" class="tv g">2</text>
<text x="804" y="424.8" class="tm">:02</text><text x="891" y="424.8" class="tp">29.30</text><text x="1014" y="424.8" class="tv g">1</text>
<text x="804" y="434.4" class="tm">:02</text><text x="891" y="434.4" class="tp">29.35</text><text x="911" y="434.4" class="ar r">↑</text><text x="1014" y="434.4" class="tv r">2</text>
<text x="804" y="444" class="tm">:02</text><text x="891" y="444" class="tp">29.30</text><text x="911" y="444" class="ar g">↓</text><text x="1014" y="444" class="tv g">2</text>
<text x="804" y="453.6" class="tm">:03</text><text x="891" y="453.6" class="tp">29.35</text><text x="911" y="453.6" class="ar r">↑</text><text x="1014" y="453.6" class="tv r">5</text>
<text x="804" y="463.2" class="tm">:03</text><text x="891" y="463.2" class="tp">29.30</text><text x="911" y="463.2" class="ar g">↓</text><text x="1014" y="463.2" class="tv g">2</text>
<text x="804" y="472.8" class="tm">:03</text><text x="891" y="472.8" class="tp">29.30</text><text x="1014" y="472.8" class="tv g">1</text>
<text x="804" y="482.4" class="tm">:03</text><text x="891" y="482.4" class="tp">29.35</text><text x="911" y="482.4" class="ar r">↑</text><text x="1014" y="482.4" class="tv r">1</text>
<text x="804" y="492" class="tm">:03</text><text x="891" y="492" class="tp">29.35</text><text x="1014" y="492" class="tv r">20</text>
<text x="804" y="501.6" class="tm">:03</text><text x="891" y="501.6" class="tp">29.30</text><text x="911" y="501.6" class="ar g">↓</text><text x="1014" y="501.6" class="tv g">1</text>
<text x="804" y="511.2" class="tm">:03</text><text x="891" y="511.2" class="tp">29.35</text><text x="911" y="511.2" class="ar r">↑</text><text x="1014" y="511.2" class="tv r">30</text>
<text x="804" y="520.8" class="tm">:03</text><text x="891" y="520.8" class="tp">29.30</text><text x="911" y="520.8" class="ar g">↓</text><text x="1014" y="520.8" class="tv g">1</text>
</g>

<!-- right tabs -->
<line x1="792" y1="528.5" x2="1022" y2="528.5" stroke="#999" stroke-dasharray="1,1"/>
<g stroke="#888"><path d="M816 529l3 8M841 529l3 8M867 529l3 8M892 529l3 8M918 529l3 8M943 529l3 8M969 529l3 8M994 529l3 8M1019 529l2 8"/></g>
<g font-size="7.5" fill="#333">
<text x="801" y="536" fill="#d02020">細</text><text x="827" y="536">價</text><text x="852" y="536">盤</text><text x="878" y="536">勢</text><text x="903" y="536">周</text><text x="929" y="536">指</text><text x="954" y="536">成</text><text x="979" y="536">特</text><text x="1006" y="536">解</text>
</g>
<line x1="937.5" y1="538" x2="937.5" y2="543" stroke="#999"/>
<rect x="949" y="539" width="5" height="4" fill="#d03030"/>
<text x="957" y="545" font-size="8" fill="#d02020">收盤價:</text>
<rect x="987.5" y="538.5" width="36" height="6" fill="#fff" stroke="#999"/>
<text x="990" y="545" font-size="8" fill="#111">29.30</text>
</svg>
</body></html>
